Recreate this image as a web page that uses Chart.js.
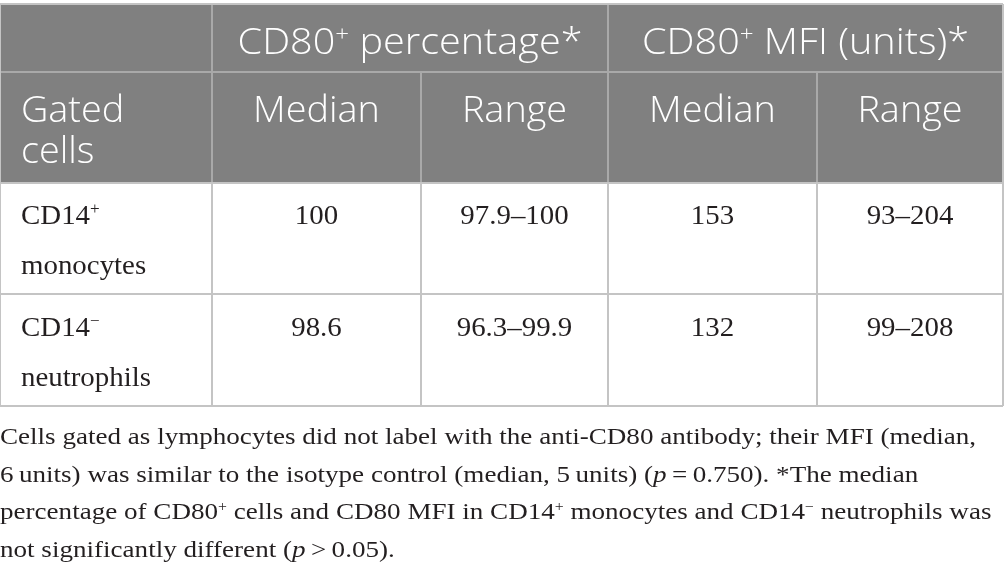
<!DOCTYPE html>
<html>
<head>
<meta charset="utf-8">
<script src="https://cdn.jsdelivr.net/npm/chart.js@4.4.1/dist/chart.umd.min.js"></script>
<style>
  html, body { margin: 0; padding: 0; background: #fff; }
  #wrap { width: 1005px; height: 571px; }
</style>
</head>
<body>
<div id="wrap"><canvas id="cd80Table"></canvas></div>
<script>
// table content ("^{..}" = superscript, "_{..}" = italic)
var groupHeaders = ['CD80^{+} percentage*', 'CD80^{+} MFI (units)*'];
var columnHeaders = ['Gated\ncells', 'Median', 'Range', 'Median', 'Range'];
var rowLabels = ['CD14^{+}\nmonocytes', 'CD14^{\u2212}\nneutrophils'];
var pctMedian = ['100', '98.6'];
var pctRange = ['97.9\u2013100', '96.3\u201399.9'];
var mfiMedian = ['153', '132'];
var mfiRange = ['93\u2013204', '99\u2013208'];
var footnote = [
    'Cells gated as lymphocytes did not label with the anti-CD80 antibody; their MFI (median,',
    '6\u2009units) was similar to the isotype control (median, 5\u2009units) (_{p}\u2009=\u20090.750). *The median',
    'percentage of CD80^{+} cells and CD80 MFI in CD14^{+} monocytes and CD14^{\u2212} neutrophils was',
    'not significantly different (_{p}\u2009>\u20090.05).'
];

// layout, in scale units
var colEdges = [0, 212, 421, 608, 817, 1003];
var rowEdges = [4, 72, 183, 294, 406];
var headFont = '"Open Sans", "Noto Sans", sans-serif';
var bodyFont = '"Liberation Serif", "Times New Roman", Tinos, serif';

function parseRich(str) {
    var parts = str.split(/(\^\{[^}]*\}|_\{[^}]*\})/);
    var out = [];
    parts.forEach(function (p) {
        if (!p) return;
        if (p[0] === '^') out.push({ t: p.slice(2, -1), sup: true });
        else if (p[0] === '_' && p[1] === '{') out.push({ t: p.slice(2, -1), it: true });
        else out.push({ t: p });
    });
    return out;
}

function segFont(seg, st) {
    var s = seg.sup ? Math.round(st.size * 0.6) : st.size;
    return (seg.it ? 'italic ' : 'normal ') + st.weight + ' ' + s + 'px ' + st.family;
}

function richWidth(ctx, segs, st) {
    var w = 0;
    segs.forEach(function (seg) {
        ctx.font = segFont(seg, st);
        w += ctx.measureText(seg.t).width;
    });
    return w;
}

// st: {size, family, weight, color, sx}
function drawRich(ctx, str, x, y, align, st) {
    var segs = parseRich(str);
    var sx = st.sx || 1;
    var w = richWidth(ctx, segs, st) * sx;
    var left = align === 'center' ? x - w / 2 : x;
    ctx.save();
    ctx.translate(left, y);
    ctx.scale(sx, 1);
    ctx.fillStyle = st.color;
    ctx.textAlign = 'left';
    ctx.textBaseline = 'alphabetic';
    var cx = 0;
    segs.forEach(function (seg) {
        ctx.font = segFont(seg, st);
        ctx.fillText(seg.t, cx, seg.sup ? -st.size * 0.36 : 0);
        cx += ctx.measureText(seg.t).width;
    });
    ctx.restore();
    return w;
}

var tablePlugin = {
    id: 'tablePlugin',
    afterDraw: function (chart) {
        var ctx = chart.ctx;
        var xs = chart.scales.x, ys = chart.scales.y;
        var X = function (v) { return xs.getPixelForValue(v); };
        var Y = function (v) { return ys.getPixelForValue(v); };
        var bodyCols = [pctMedian, pctRange, mfiMedian, mfiRange];
        var groupStyle = { size: 36, family: headFont, weight: 300, color: '#ffffff', sx: 1.1 };
        var colStyle = { size: 36, family: headFont, weight: 300, color: '#ffffff', sx: 1.05 };
        var bodyStyle = { size: 27, family: bodyFont, weight: 400, color: '#231f20', sx: 1.07 };

        ctx.save();
        // header band
        ctx.fillStyle = '#808080';
        ctx.fillRect(X(colEdges[0]), Y(rowEdges[0]), X(colEdges[5]) - X(colEdges[0]), Y(rowEdges[2]) - Y(rowEdges[0]));

        // grid lines
        ctx.lineWidth = 2;
        ctx.strokeStyle = '#a9a9a9';
        var line = function (x1, y1, x2, y2) {
            ctx.beginPath();
            ctx.moveTo(X(x1), Y(y1));
            ctx.lineTo(X(x2), Y(y2));
            ctx.stroke();
        };
        // header inner lines
        line(colEdges[0], rowEdges[1], colEdges[5], rowEdges[1]);
        line(colEdges[1], rowEdges[0], colEdges[1], rowEdges[2]);
        line(colEdges[3], rowEdges[0], colEdges[3], rowEdges[2]);
        line(colEdges[2], rowEdges[1], colEdges[2], rowEdges[2]);
        line(colEdges[4], rowEdges[1], colEdges[4], rowEdges[2]);
        // outer and body lines
        ctx.strokeStyle = '#c4c4c4';
        line(colEdges[0], rowEdges[0], colEdges[5], rowEdges[0]);
        line(colEdges[0], rowEdges[2], colEdges[5], rowEdges[2]);
        line(colEdges[0], rowEdges[3], colEdges[5], rowEdges[3]);
        line(colEdges[0], rowEdges[4], colEdges[5], rowEdges[4]);
        for (var c = 0; c < colEdges.length; c++) {
            line(colEdges[c], c === 0 || c === 5 ? rowEdges[0] : rowEdges[2], colEdges[c], rowEdges[4]);
        }

        // group headers
        drawRich(ctx, groupHeaders[0], (X(colEdges[1]) + X(colEdges[3])) / 2, Y(54), 'center', groupStyle);
        drawRich(ctx, groupHeaders[1], (X(colEdges[3]) + X(colEdges[5])) / 2, Y(54), 'center', groupStyle);

        // column headers
        columnHeaders.forEach(function (h, i) {
            h.split('\n').forEach(function (ln, k) {
                if (i === 0) drawRich(ctx, ln, X(colEdges[0]) + 21, Y(122 + k * 41), 'left', colStyle);
                else drawRich(ctx, ln, (X(colEdges[i]) + X(colEdges[i + 1])) / 2, Y(122 + k * 41), 'center', colStyle);
            });
        });

        // body rows
        rowLabels.forEach(function (lab, r) {
            var base = r === 0 ? 224 : 336;
            lab.split('\n').forEach(function (ln, k) {
                drawRich(ctx, ln, X(colEdges[0]) + 21, Y(base + k * 50), 'left', bodyStyle);
            });
            bodyCols.forEach(function (col, c) {
                drawRich(ctx, col[r], (X(colEdges[c + 1]) + X(colEdges[c + 2])) / 2, Y(base), 'center', bodyStyle);
            });
        });

        // footnote, stretched to the width of its first line
        var noteStyle = { size: 24, family: bodyFont, weight: 400, color: '#231f20', sx: 1 };
        var firstW = richWidth(ctx, parseRich(footnote[0]), noteStyle);
        noteStyle.sx = Math.max(0.85, Math.min(1.2, (X(976) - X(0)) / firstW));
        footnote.forEach(function (ln, k) {
            drawRich(ctx, ln, X(0), Y(444 + k * 37.7), 'left', noteStyle);
        });
        ctx.restore();
    }
};

function buildTable() {
    var ctx = document.getElementById('cd80Table').getContext('2d');

    var cd80Table = new Chart(ctx, {
        type: 'scatter',
        data: {
            datasets: [{
                label: 'CD80 expression',
                data: [],
                pointRadius: 0
            }]
        },
        options: {
            responsive: true,
            maintainAspectRatio: false,
            animation: false,
            layout: { padding: 0 },
            plugins: {
                legend: { display: false },
                tooltip: { enabled: false }
            },
            scales: {
                x: { type: 'linear', min: 0, max: 1005, display: false },
                y: { type: 'linear', min: 0, max: 571, reverse: true, display: false }
            }
        },
        plugins: [tablePlugin]
    });
}

document.addEventListener('DOMContentLoaded', function () {
    var loads = [
        document.fonts.load('27px "Liberation Serif"'),
        document.fonts.load('italic 23px "Liberation Serif"'),
        document.fonts.load('300 36px "Open Sans"')
    ];
    Promise.all(loads).then(buildTable, buildTable);
});
</script>
</body>
</html>
